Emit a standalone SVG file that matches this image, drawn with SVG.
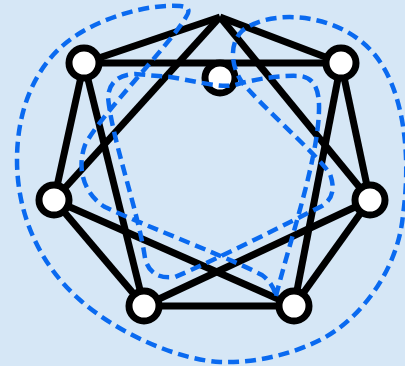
<svg xmlns="http://www.w3.org/2000/svg" width="405" height="366" viewBox="0 0 405 366">
<style>
.edge{stroke:#000;stroke-width:7;fill:none;stroke-linecap:butt}
.node{fill:#fff;stroke:#000;stroke-width:7}
.curve{fill:none;stroke:#0a6af0;stroke-width:4.5;stroke-dasharray:11 6;stroke-linejoin:round}
</style>
<rect width="405" height="366" fill="#d6e7f6"/>
<g id="connectors">
<line class="edge" x1="220" y1="17" x2="84" y2="63"/>
<line class="edge" x1="220" y1="17" x2="341" y2="63"/>
<line class="edge" x1="220" y1="17" x2="54" y2="200"/>
<line class="edge" x1="220" y1="17" x2="370" y2="200"/>
<line class="edge" x1="84" y1="63" x2="341" y2="63"/>
<line class="edge" x1="84" y1="63" x2="54" y2="200"/>
<line class="edge" x1="84" y1="63" x2="144" y2="306"/>
<line class="edge" x1="341" y1="63" x2="370" y2="200"/>
<line class="edge" x1="341" y1="63" x2="294" y2="306"/>
<line class="edge" x1="54" y1="200" x2="144" y2="306"/>
<line class="edge" x1="54" y1="200" x2="294" y2="306"/>
<line class="edge" x1="370" y1="200" x2="294" y2="306"/>
<line class="edge" x1="370" y1="200" x2="144" y2="306"/>
<line class="edge" x1="144" y1="306" x2="294" y2="306"/>
</g>
<g id="n-a"><circle class="node" cx="84" cy="63" r="15"/></g>
<g id="n-b"><circle class="node" cx="341" cy="63" r="15"/></g>
<g id="n-c"><circle class="node" cx="370" cy="200" r="15"/></g>
<g id="n-d"><circle class="node" cx="294" cy="306" r="15"/></g>
<g id="n-e"><circle class="node" cx="144" cy="306" r="15"/></g>
<g id="n-f"><circle class="node" cx="54" cy="200" r="15"/></g>
<g id="n-g"><circle class="node" cx="220" cy="78" r="15"/></g>
<g id="curve">
<path class="curve" d="M276,296 C290,240 318,160 319,110 Q320,78 300,76 C280,75 255,79 235,85 C220,88 200,82 170,77 L135,74 Q110,75 108,97 C112,140 138,210 145,258 Q150,280 175,277 C220,258 290,222 322,206 Q338,196 330,174 C318,155 260,105 242,82 C232,68 228,45 242,31 C270,8 340,12 375,55 C402,88 412,150 403,215 C398,270 360,320 320,340 C290,355 255,363 220,362 C180,360 120,335 80,300 C40,265 17,215 17,160 C17,110 35,60 80,33 C110,15 150,4 180,6 Q193,7 186,17 C170,45 100,115 85,145 C76,170 85,195 105,207 C150,228 230,258 262,275 Q273,283 276,296 Z"/>
</g>
</svg>
